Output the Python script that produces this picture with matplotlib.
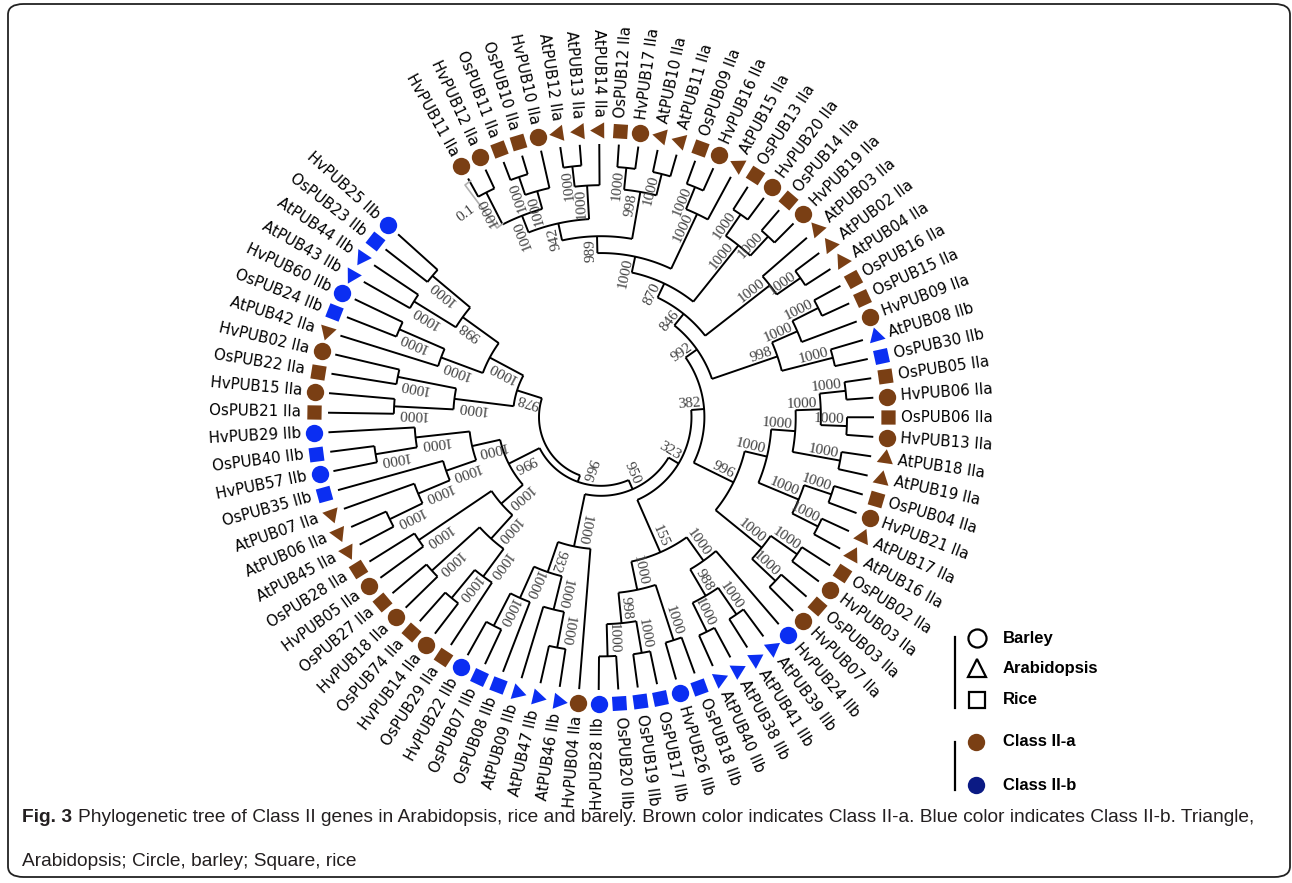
import numpy as np
import matplotlib
matplotlib.use("Agg")
import matplotlib.pyplot as plt
from matplotlib.patches import FancyBboxPatch
from matplotlib.collections import LineCollection

# leaves in drawing order (counter-clockwise, starting top-left)
genes = ["HvPUB25", "OsPUB23", "AtPUB44", "AtPUB43", "HvPUB60", "OsPUB24", "AtPUB42",
         "HvPUB02", "OsPUB22", "HvPUB15", "OsPUB21", "HvPUB29", "OsPUB40", "HvPUB57",
         "OsPUB35", "AtPUB07", "AtPUB06", "AtPUB45", "OsPUB28", "HvPUB05", "OsPUB27",
         "HvPUB18", "OsPUB74", "HvPUB14", "OsPUB29", "HvPUB22", "OsPUB07", "OsPUB08",
         "AtPUB09", "AtPUB47", "AtPUB46", "HvPUB04", "HvPUB28", "OsPUB20", "OsPUB19",
         "OsPUB17", "HvPUB26", "OsPUB18", "AtPUB40", "AtPUB38", "AtPUB41", "AtPUB39",
         "HvPUB24", "HvPUB07", "OsPUB03", "HvPUB03", "OsPUB02", "AtPUB16", "AtPUB17",
         "HvPUB21", "OsPUB04", "AtPUB19", "AtPUB18", "HvPUB13", "OsPUB06", "HvPUB06",
         "OsPUB05", "OsPUB30", "AtPUB08", "HvPUB09", "OsPUB15", "OsPUB16", "AtPUB04",
         "AtPUB02", "AtPUB03", "HvPUB19", "OsPUB14", "HvPUB20", "OsPUB13", "AtPUB15",
         "HvPUB16", "OsPUB09", "AtPUB11", "AtPUB10", "HvPUB17", "OsPUB12", "AtPUB14",
         "AtPUB13", "AtPUB12", "HvPUB10", "OsPUB10", "OsPUB11", "HvPUB12", "HvPUB11"]

gene_class = ["IIb", "IIb", "IIb", "IIb", "IIb", "IIb", "IIa",
              "IIa", "IIa", "IIa", "IIa", "IIb", "IIb", "IIb",
              "IIb", "IIa", "IIa", "IIa", "IIa", "IIa", "IIa",
              "IIa", "IIa", "IIa", "IIa", "IIb", "IIb", "IIb",
              "IIb", "IIb", "IIb", "IIa", "IIb", "IIb", "IIb",
              "IIb", "IIb", "IIb", "IIb", "IIb", "IIb", "IIb",
              "IIb", "IIa", "IIa", "IIa", "IIa", "IIa", "IIa",
              "IIa", "IIa", "IIa", "IIa", "IIa", "IIa", "IIa",
              "IIa", "IIb", "IIb", "IIa", "IIa", "IIa", "IIa",
              "IIa", "IIa", "IIa", "IIa", "IIa", "IIa", "IIa",
              "IIa", "IIa", "IIa", "IIa", "IIa", "IIa", "IIa",
              "IIa", "IIa", "IIa", "IIa", "IIa", "IIa", "IIa"]

# clades with bootstrap values (topology)
clade_ul = ("((((HvPUB25,OsPUB23)1000,(AtPUB44,AtPUB43)1000)998,((HvPUB60,OsPUB24)1000,AtPUB42)1000)1000,"
            "((HvPUB02,OsPUB22)1000,(HvPUB15,OsPUB21)1000)1000)978")
clade_left = ("(((HvPUB29,(OsPUB40,HvPUB57)1000)1000,(OsPUB35,(AtPUB07,(AtPUB06,AtPUB45)1000)1000)1000)1000,"
              "((OsPUB28,HvPUB05)1000,((OsPUB27,HvPUB18)1000,((OsPUB74,HvPUB14)1000,OsPUB29)1000)1000)1000)996")
clade_bottom = "((((HvPUB22,OsPUB07)1000,OsPUB08)1000,(AtPUB09,(AtPUB47,AtPUB46)1000)1000)932,HvPUB04)1000"
clade_iib = ("((((HvPUB28,OsPUB20)1000,(OsPUB19,OsPUB17)1000)998,(HvPUB26,OsPUB18)1000)1000,"
             "(((AtPUB40,AtPUB38)1000,(AtPUB41,AtPUB39)1000)988,HvPUB24)1000)155")
clade_right = ("(((HvPUB07,OsPUB03)1000,(HvPUB03,OsPUB02)1000)1000,"
               "(((AtPUB16,AtPUB17)1000,(HvPUB21,OsPUB04)1000)1000,"
               "((AtPUB19,AtPUB18)1000,((HvPUB13,OsPUB06)1000,(HvPUB06,OsPUB05)1000)1000)1000)1000)996")
clade_t1 = "((OsPUB30,AtPUB08)1000,(HvPUB09,(OsPUB15,OsPUB16)1000)1000)998"
clade_t2 = "((AtPUB04,AtPUB02)1000,AtPUB03)1000"
clade_t3 = "((HvPUB19,OsPUB14)1000,(HvPUB20,OsPUB13)1000)1000"
clade_t4 = "(AtPUB15,(HvPUB16,OsPUB09)1000)1000"
clade_t5 = "((AtPUB11,AtPUB10)1000,(HvPUB17,OsPUB12)1000)998"
clade_t6 = ("((AtPUB14,(AtPUB13,AtPUB12)1000)1000,"
            "((HvPUB10,(OsPUB10,OsPUB11)1000)1000,(HvPUB12,HvPUB11)1000)1000)942")

clade_top = f"({clade_t1},({clade_t2},({clade_t3},({clade_t4},({clade_t5},{clade_t6})989)1000)870)846)992"
tree_newick = (f"({clade_ul},({clade_left},({clade_bottom},"
               f"({clade_iib},({clade_right},{clade_top})382)323)950)966);")

BROWN = "#7a3f14"
BLUE = "#0b2ef2"
NAVY = "#0b1a84"

cx, cy = 601, 417
R_TIP, R_MARK, R_LAB, R_ROOT = 273, 287, 300, 62
A0, DA = 138.0, 4.11


def parse_newick(s):
    pos = 0

    def node():
        nonlocal pos
        if s[pos] == "(":
            pos += 1
            kids = [node()]
            while s[pos] == ",":
                pos += 1
                kids.append(node())
            pos += 1
            start = pos
            while pos < len(s) and s[pos] not in ",);":
                pos += 1
            return {"kids": kids, "boot": s[start:pos]}
        start = pos
        while pos < len(s) and s[pos] not in ",);":
            pos += 1
        return {"kids": [], "name": s[start:pos]}

    return node()


root = parse_newick(tree_newick)
leaves = []


def layout(n, depth):
    n["depth"] = depth
    if not n["kids"]:
        n["height"] = 0
        n["angle"] = A0 + DA * len(leaves)
        leaves.append(n)
        return
    for k in n["kids"]:
        layout(k, depth + 1)
    n["height"] = 1 + max(k["height"] for k in n["kids"])
    n["angle"] = 0.5 * (n["kids"][0]["angle"] + n["kids"][-1]["angle"])


layout(root, 0)


def set_radius(n):
    if not n["kids"]:
        n["r"] = R_TIP
    else:
        f = n["depth"] / (n["depth"] + n["height"])
        n["r"] = R_ROOT + (R_TIP - R_ROOT) * f ** 1.3
        for k in n["kids"]:
            set_radius(k)


set_radius(root)


def pol(r, a):
    t = np.radians(a)
    return cx + r * np.cos(t), cy - r * np.sin(t)


fig = plt.figure(figsize=(12.92, 8.83), dpi=100)
ax = fig.add_axes([0, 0, 1, 1])
ax.set_xlim(0, 1292)
ax.set_ylim(883, 0)
ax.axis("off")

segs = []
boots = []


def draw(n):
    if not n["kids"]:
        return
    r = n["r"]
    angs = [k["angle"] for k in n["kids"]]
    arc = np.linspace(min(angs), max(angs), 60)
    segs.append(np.column_stack(pol(r, arc)))
    for k in n["kids"]:
        segs.append([pol(r, k["angle"]), pol(k["r"], k["angle"])])
        if k["kids"] and k.get("boot"):
            boots.append(k)
        draw(k)


draw(root)
ax.add_collection(LineCollection(segs, colors="black", linewidths=1.4, capstyle="butt"))

for n in boots:
    a = n["angle"]
    x, y = pol(n["r"] - 3, a)
    ax.text(x, y, n["boot"], rotation=a % 360, rotation_mode="anchor",
            ha="right", va="bottom", fontsize=11, family="Liberation Serif",
            color="#404040")

cls_of = dict(zip(genes, gene_class))
for lf in leaves:
    name = lf["name"]
    a = lf["angle"]
    col = BROWN if cls_of[name] == "IIa" else BLUE
    x, y = pol(R_MARK, a)
    sp = name[:2]
    if sp == "Hv":
        ax.plot(x, y, marker="o", ms=12.5, color=col, mec="none")
    elif sp == "At":
        ax.plot(x, y, marker=(3, 0, a), ms=13.5, color=col, mec="none")
    else:
        ax.plot(x, y, marker=(4, 0, a + 45), ms=14.5, color=col, mec="none")
    lx, ly = pol(R_LAB, a)
    aa = a % 360
    if 90 < aa < 270:
        rot, ha = aa - 180, "right"
    else:
        rot, ha = aa, "left"
    ax.text(lx, ly, name + " " + cls_of[name], rotation=rot, rotation_mode="anchor",
            ha=ha, va="center", fontsize=10.8, color="black")

# scale bar
p1, p2 = np.array([465.0, 185.0]), np.array([497.0, 228.0])
d = (p2 - p1) / np.linalg.norm(p2 - p1)
nrm = np.array([d[1], -d[0]]) * 7
ax.plot([p1[0] + nrm[0], p1[0], p2[0], p2[0] + nrm[0]],
        [p1[1] + nrm[1], p1[1], p2[1], p2[1] + nrm[1]], color="#b0b0b0", lw=1.2)
ax.text(466, 213, "0.1", rotation=37, ha="center", va="center", fontsize=11,
        family="Liberation Serif", color="#404040")

# legend
ax.plot([955, 955], [637, 708], color="black", lw=1.6)
ax.plot([955, 955], [742, 790], color="black", lw=1.6)
ax.plot(977, 638, marker="o", ms=13, mfc="none", mec="black", mew=1.6)
ax.plot(977, 668, marker="^", ms=13, mfc="none", mec="black", mew=1.6)
ax.plot(977, 700, marker="s", ms=12, mfc="none", mec="black", mew=1.6)
ax.plot(976, 742, marker="o", ms=12.5, color=BROWN, mec="none")
ax.plot(976, 785, marker="o", ms=12.5, color=NAVY, mec="none")
for yy, t in [(638, "Barley"), (668, "Arabidopsis"), (700, "Rice"),
              (742, "Class II-a"), (785, "Class II-b")]:
    ax.text(1003, yy, t, fontsize=12, fontweight="bold", family="Liberation Sans",
            va="center", ha="left")

# frame
fig.patches.append(FancyBboxPatch((8 / 1292, 6 / 883), 1282 / 1292, 873 / 883,
                                  boxstyle="round,pad=0,rounding_size=0.012",
                                  transform=fig.transFigure, fill=False,
                                  ec="#222222", lw=1.3))

# caption
cap_font = ["Liberation Sans Narrow", "Liberation Sans"]
line1 = "Phylogenetic tree of Class II genes in Arabidopsis, rice and barely. Brown color indicates Class II-a. Blue color indicates Class II-b. Triangle,"
line2 = "Arabidopsis; Circle, barley; Square, rice"
fs = 12
t0 = ax.text(22, 818, "Fig. 3", fontsize=fs, fontweight="bold", family=cap_font,
             va="center", color="#231f20")
t1 = ax.text(0, 818, line1, fontsize=fs, family=cap_font, va="center", color="#231f20")
t2 = ax.text(22, 862, line2, fontsize=fs, family=cap_font, va="center", color="#231f20")
fig.canvas.draw()
rend = fig.canvas.get_renderer()
w0 = t0.get_window_extent(rend).width
w1 = t1.get_window_extent(rend).width
scale = (1265 - 22) / (w0 + 6 + w1)
fs = fs * scale
for t in (t0, t1, t2):
    t.set_fontsize(fs)
fig.canvas.draw()
w0 = t0.get_window_extent(rend).width
t1.set_x(22 + w0 + 6)

fig.savefig("out.png", dpi=100)
